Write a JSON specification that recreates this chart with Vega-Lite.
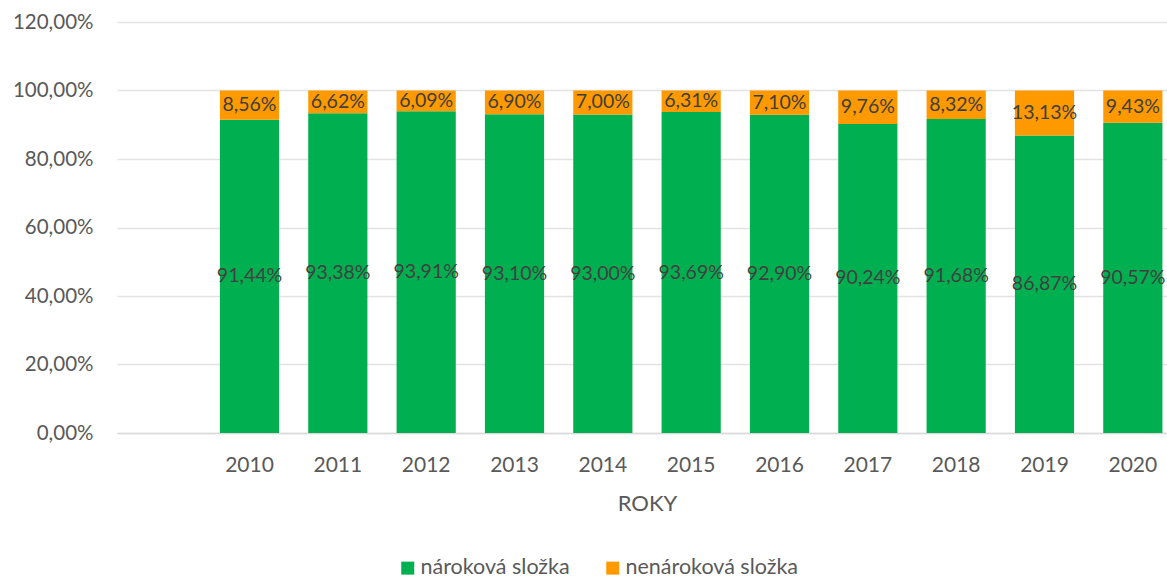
{
  "$schema": "https://vega.github.io/schema/vega-lite/v6.json",
  "width": 1060,
  "height": 411,
  "autosize": {"type": "none"},
  "padding": {"left": 117, "top": 22, "right": 0, "bottom": 148},
  "background": "white",
  "config": {
    "locale": {"number": {"decimal": ",", "thousands": " ", "grouping": [3], "currency": ["", " Kč"]}},
    "view": {"stroke": null},
    "font": "Lato"
  },
  "data": {
    "values": [
      {"rok": "2010", "slozka": "nároková složka", "hodnota": 0.9144},
      {"rok": "2010", "slozka": "nenároková složka", "hodnota": 0.0856},
      {"rok": "2011", "slozka": "nároková složka", "hodnota": 0.9338},
      {"rok": "2011", "slozka": "nenároková složka", "hodnota": 0.0662},
      {"rok": "2012", "slozka": "nároková složka", "hodnota": 0.9391},
      {"rok": "2012", "slozka": "nenároková složka", "hodnota": 0.0609},
      {"rok": "2013", "slozka": "nároková složka", "hodnota": 0.9310},
      {"rok": "2013", "slozka": "nenároková složka", "hodnota": 0.0690},
      {"rok": "2014", "slozka": "nároková složka", "hodnota": 0.9300},
      {"rok": "2014", "slozka": "nenároková složka", "hodnota": 0.0700},
      {"rok": "2015", "slozka": "nároková složka", "hodnota": 0.9369},
      {"rok": "2015", "slozka": "nenároková složka", "hodnota": 0.0631},
      {"rok": "2016", "slozka": "nároková složka", "hodnota": 0.9290},
      {"rok": "2016", "slozka": "nenároková složka", "hodnota": 0.0710},
      {"rok": "2017", "slozka": "nároková složka", "hodnota": 0.9024},
      {"rok": "2017", "slozka": "nenároková složka", "hodnota": 0.0976},
      {"rok": "2018", "slozka": "nároková složka", "hodnota": 0.9168},
      {"rok": "2018", "slozka": "nenároková složka", "hodnota": 0.0832},
      {"rok": "2019", "slozka": "nároková složka", "hodnota": 0.8687},
      {"rok": "2019", "slozka": "nenároková složka", "hodnota": 0.1313},
      {"rok": "2020", "slozka": "nároková složka", "hodnota": 0.9057},
      {"rok": "2020", "slozka": "nenároková složka", "hodnota": 0.0943}
    ]
  },
  "transform": [
    {"stack": "hodnota", "groupby": ["rok"], "sort": [{"field": "slozka", "order": "descending"}], "as": ["y0", "y1"]},
    {"calculate": "(datum.y0 + datum.y1) / 2", "as": "ymid"}
  ],
  "encoding": {
    "x": {
      "field": "rok",
      "type": "nominal",
      "scale": {"domain": ["", "2010", "2011", "2012", "2013", "2014", "2015", "2016", "2017", "2018", "2019", "2020"], "paddingInner": 0.33, "paddingOuter": 0.165},
      "axis": {
        "title": "ROKY",
        "titleFontSize": 22,
        "titleFontWeight": "normal",
        "titleColor": "#595959",
        "titlePadding": 18,
        "labelFontSize": 21,
        "labelColor": "#595959",
        "labelPadding": 21,
        "labelAngle": 0,
        "ticks": false,
        "domainColor": "#d9d9d9",
        "domainWidth": 1.5,
        "grid": false
      }
    }
  },
  "layer": [
    {
      "mark": {"type": "bar"},
      "encoding": {
        "y": {
          "field": "y0",
          "type": "quantitative",
          "scale": {"domain": [0, 1.2]},
          "axis": {
            "title": null,
            "format": ".2%",
            "values": [0, 0.2, 0.4, 0.6, 0.8, 1.0, 1.2],
            "labelFontSize": 20.5,
            "labelColor": "#595959",
            "labelPadding": 24,
            "ticks": false,
            "domain": false,
            "gridColor": "#e3e3e3",
            "gridWidth": 1.5
          }
        },
        "y2": {"field": "y1"},
        "color": {
          "field": "slozka",
          "type": "nominal",
          "scale": {"domain": ["nároková složka", "nenároková složka"], "range": ["#00B050", "#FF9900"]},
          "legend": {
            "title": null,
            "orient": "none",
            "legendX": 280,
            "legendY": 535,
            "direction": "horizontal",
            "symbolType": "square",
            "symbolSize": 169,
            "symbolStrokeWidth": 0,
            "labelFontSize": 21.5,
            "labelColor": "#595959",
            "labelOffset": 2,
            "labelLimit": 400,
            "columnPadding": 32
          }
        }
      }
    },
    {
      "mark": {"type": "text", "fontSize": 19.5, "color": "#404040"},
      "encoding": {
        "y": {"field": "ymid", "type": "quantitative"},
        "text": {"field": "hodnota", "type": "quantitative", "format": ".2%"}
      }
    }
  ]
}
